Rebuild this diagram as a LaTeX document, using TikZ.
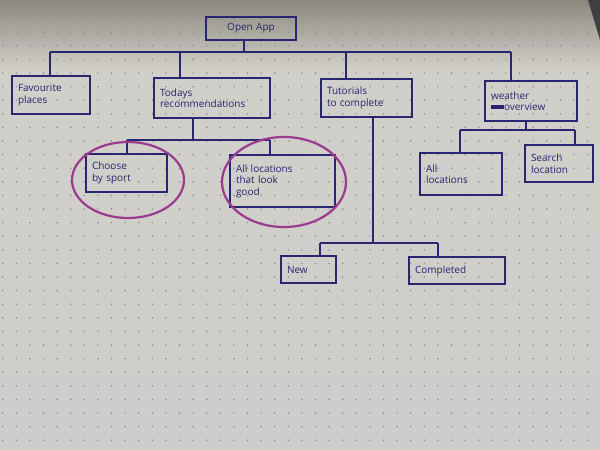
\documentclass[tikz,border=0pt]{standalone}
\usepackage{fontspec}
\setmainfont{Open Sans}
\definecolor{ink}{HTML}{28266E}
\definecolor{marker}{HTML}{9A3A90}
\definecolor{paper}{HTML}{D2D0C8}
\definecolor{paperlow}{HTML}{CDCDCB}
\definecolor{shadow}{HTML}{8A887F}
\definecolor{dotgrey}{HTML}{86868A}

\tikzset{
  sitebox/.style={draw=ink, line width=1.2pt, text=ink, align=left, inner xsep=6pt, inner ysep=2pt, font=\boxfontsize},
  link/.style={draw=ink, line width=1.2pt},
  ring/.style={draw=marker, line width=2.2pt, line cap=round},
}

\begin{document}
\begin{tikzpicture}[x=1pt,y=-1pt]
    \pgfmathsetmacro{\dotstep}{13.6}
    \pgfmathsetmacro{\dotradius}{0.8}
    \providecommand{\boxfontsize}{\fontsize{10pt}{11.5pt}\selectfont}
    % paper and dot grid
    \shade[top color=paper, bottom color=paperlow] (0,0) rectangle (600,450);
    \shade[top color=shadow, bottom color=paper] (0,0) rectangle (600,70);
    \fill[black!75] (588,0) -- (600,0) -- (600,40) -- cycle;
    \useasboundingbox (0,0) rectangle (600,450);
    \foreach \i in {0,...,44} \foreach \j in {0,...,33}
        \fill[dotgrey] (2.7+\i*\dotstep,5+\j*\dotstep) circle[radius=\dotradius pt];
    % pages
    \node[sitebox, text width=78pt, minimum height=23pt, align=center] (app) at (251,28.5) {Open App};
    \node[sitebox, text width=66pt, minimum height=38pt] (fav) at (51,95) {Favourite\\places};
    \node[sitebox, text width=104pt, minimum height=40pt] (today) at (212,98) {Todays\\recommendations};
    \node[sitebox, text width=79pt, minimum height=38pt] (tut) at (366.5,98) {Tutorials\\to complete};
    \node[sitebox, text width=80pt, minimum height=40pt] (weather) at (531,101) {weather\\\rule[.3ex]{1.3em}{.7ex}overview};
    \node[sitebox, text width=69pt, minimum height=38pt] (sport) at (126.5,173) {Choose\\by sport};
    \node[sitebox, text width=93pt, minimum height=52pt] (good) at (282.5,181) {All locations\\that look\\good};
    \node[sitebox, text width=70pt, minimum height=42pt] (allloc) at (461,174) {All\\locations};
    \node[sitebox, text width=56pt, minimum height=37pt] (search) at (559,163.5) {Search\\location};
    \node[sitebox, text width=43pt, minimum height=27pt] (new) at (308.5,269.5) {New};
    \node[sitebox, text width=84pt, minimum height=27pt] (done) at (457,270.5) {Completed};
    % junctions
    \coordinate (mainbus) at (244,52);
    \coordinate (favdrop) at (50,52);
    \coordinate (todaydrop) at (180,52);
    \coordinate (tutdrop) at (346,52);
    \coordinate (weatherdrop) at (511,52);
    \coordinate (todaybus) at (193,140);
    \coordinate (sportdrop) at (127,140);
    \coordinate (gooddrop) at (270,140);
    \coordinate (tutbus) at (373,243);
    \coordinate (newdrop) at (320,243);
    \coordinate (donedrop) at (438,243);
    \coordinate (weatherbus) at (526,130);
    \coordinate (alldrop) at (460,130);
    \coordinate (searchdrop) at (575,130);
    % connectors
    \draw[link] (app.south -| mainbus) -- (mainbus);
    \draw[link] (favdrop) -- (weatherdrop);
    \draw[link] (today.south -| todaybus) -- (todaybus);
    \draw[link] (sportdrop) -- (gooddrop);
    \draw[link] (tut.south -| tutbus) -- (tutbus);
    \draw[link] (newdrop) -- (donedrop);
    \draw[link] (weather.south -| weatherbus) -- (weatherbus);
    \draw[link] (alldrop) -- (searchdrop);
    \foreach \drop/\kid in {favdrop/fav, todaydrop/today, tutdrop/tut, weatherdrop/weather,
        sportdrop/sport, gooddrop/good, newdrop/new, donedrop/done, alldrop/allloc, searchdrop/search}
        \draw[link] (\drop) -- (\drop |- \kid.north);
    % marker rings
    \draw[ring] (128,180) ellipse[x radius=56, y radius=38];
    \draw[ring] (284,182) ellipse[x radius=62, y radius=45];
\end{tikzpicture}
\end{document}
